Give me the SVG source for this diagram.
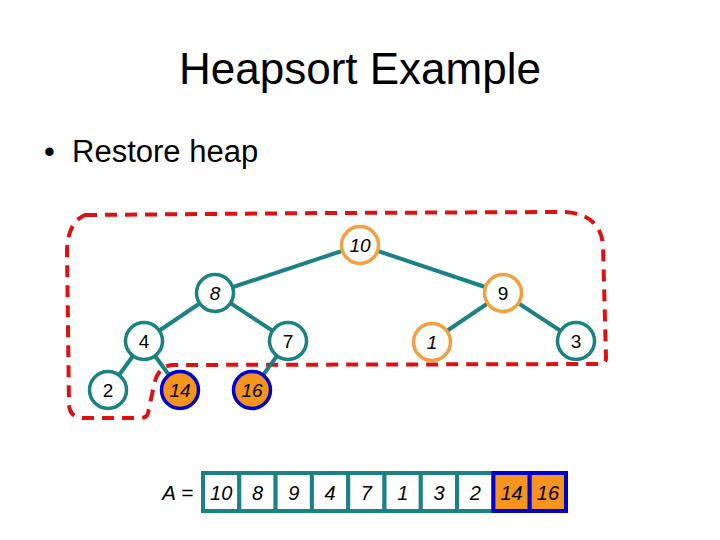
<svg xmlns="http://www.w3.org/2000/svg" width="720" height="540" viewBox="0 0 720 540">
<style>
text{font-family:"Liberation Sans",Arial,sans-serif;fill:#000}
.t{font-size:44px;text-anchor:middle}
.b{font-size:31px}
.n{font-size:19px;text-anchor:middle}
.a{font-size:20px;text-anchor:middle;font-style:italic}
.i{font-style:italic}
.edge{stroke:#1a8282;stroke-width:4;fill:none}
.tc{fill:#fff;stroke:#1a8282;stroke-width:3.5}
.oc{fill:#fff;stroke:#f2a041;stroke-width:3.5}
.bc{fill:#f7941d;stroke:#0000cc;stroke-width:3.5}
.cell{fill:#fff;stroke:#1a8282;stroke-width:4}
.bcell{fill:#f7941d;stroke:#0000cc;stroke-width:4}
.dash{fill:none;stroke:#dd1111;stroke-width:4;stroke-dasharray:12 8}
</style>
<rect width="720" height="540" fill="#fff"/>
<text class="t" x="360" y="84">Heapsort Example</text>
<text class="b" x="44" y="162">•</text>
<text class="b" x="72" y="162">Restore heap</text>

<path class="dash" d="M85 215 L330 213 L565 212 Q600 214 603 245 L606 358 Q606 364 600 364 L172 365 Q158 366 154 385 L148 413 Q147 418 140 418 L84 418 Q70 418 69 405 L67 250 Q68 222 85 215 Z"/>

<g id="connectors">
<line class="edge" x1="360" y1="245" x2="215" y2="293"/>
<line class="edge" x1="360" y1="245" x2="503" y2="293"/>
<line class="edge" x1="215" y1="293" x2="144" y2="341"/>
<line class="edge" x1="215" y1="293" x2="288" y2="341"/>
<line class="edge" x1="503" y1="293" x2="432" y2="341"/>
<line class="edge" x1="503" y1="293" x2="576" y2="341"/>
<line class="edge" x1="144" y1="341" x2="108" y2="390"/>
<line class="edge" x1="144" y1="341" x2="180" y2="390"/>
<line class="edge" x1="288" y1="341" x2="252" y2="390"/>
</g>

<g id="n10"><circle class="oc" cx="360" cy="245" r="18.5"/><text class="n i" x="360" y="252">10</text></g>
<g id="n8"><circle class="tc" cx="215" cy="293" r="18.5"/><text class="n i" x="215" y="300">8</text></g>
<g id="n9"><circle class="oc" cx="503" cy="293" r="18.5"/><text class="n" x="503" y="300">9</text></g>
<g id="n4"><circle class="tc" cx="144" cy="341" r="18.5"/><text class="n" x="144" y="348">4</text></g>
<g id="n7"><circle class="tc" cx="288" cy="341" r="18.5"/><text class="n" x="288" y="348">7</text></g>
<g id="n1"><circle class="oc" cx="432" cy="342" r="18.5"/><text class="n i" x="432" y="349">1</text></g>
<g id="n3"><circle class="tc" cx="576" cy="341" r="18.5"/><text class="n" x="576" y="348">3</text></g>
<g id="n2"><circle class="tc" cx="108" cy="390" r="18.5"/><text class="n" x="108" y="397">2</text></g>
<g id="n14"><circle class="bc" cx="180" cy="390" r="18.5"/><text class="n i" x="180" y="397">14</text></g>
<g id="n16"><circle class="bc" cx="252" cy="390" r="18.5"/><text class="n i" x="252" y="397">16</text></g>

<g id="array">
<text class="i" x="162" y="500" font-size="21">A =</text>
<rect class="cell" x="203" y="473" width="36.3" height="38"/>
<rect class="cell" x="239.3" y="473" width="36.3" height="38"/>
<rect class="cell" x="275.6" y="473" width="36.3" height="38"/>
<rect class="cell" x="311.9" y="473" width="36.3" height="38"/>
<rect class="cell" x="348.2" y="473" width="36.3" height="38"/>
<rect class="cell" x="384.5" y="473" width="36.3" height="38"/>
<rect class="cell" x="420.8" y="473" width="36.3" height="38"/>
<rect class="cell" x="457.1" y="473" width="36.3" height="38"/>
<rect class="bcell" x="493.4" y="473" width="36.3" height="38"/>
<rect class="bcell" x="529.7" y="473" width="36.3" height="38"/>
<text class="a" x="221.2" y="500">10</text>
<text class="a" x="257.5" y="500">8</text>
<text class="a" x="293.8" y="500">9</text>
<text class="a" x="330.1" y="500">4</text>
<text class="a" x="366.4" y="500">7</text>
<text class="a" x="402.7" y="500">1</text>
<text class="a" x="439" y="500">3</text>
<text class="a" x="475.3" y="500">2</text>
<text class="a" x="511.6" y="500">14</text>
<text class="a" x="547.9" y="500">16</text>
</g>
</svg>
